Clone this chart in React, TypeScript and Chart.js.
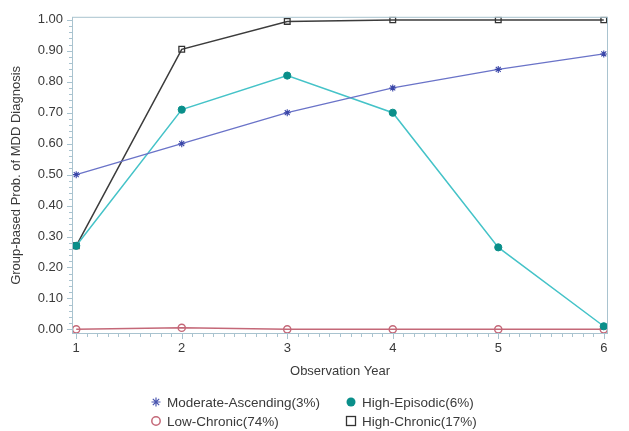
import React, { useEffect, useRef } from "react";
import { Chart, registerables } from "chart.js";

Chart.register(...registerables);

const years = [1, 2, 3, 4, 5, 6];
const moderateAscending = [0.5, 0.6, 0.7, 0.78, 0.84, 0.89];
const highEpisodic = [0.27, 0.71, 0.82, 0.7, 0.265, 0.01];
const lowChronic = [0.0, 0.005, 0.0, 0.0, 0.0, 0.0];
const highChronic = [0.27, 0.905, 0.995, 1.0, 1.0, 1.0];
const seriesLabels = [
  "Moderate-Ascending(3%)",
  "High-Episodic(6%)",
  "Low-Chronic(74%)",
  "High-Chronic(17%)",
];
const yTicks = [0, 0.1, 0.2, 0.3, 0.4, 0.5, 0.6, 0.7, 0.8, 0.9, 1.0];

const FONT = "'Liberation Sans', Arial, sans-serif";
const TEXT = "#3a3a3a";
const FRAME = "#a9c3cf";

const toXY = (vals: number[]) => vals.map((v, i) => ({ x: years[i], y: v }));

function drawMarker(ctx: CanvasRenderingContext2D, kind: string, x: number, y: number, color: string) {
  ctx.save();
  ctx.strokeStyle = color;
  ctx.fillStyle = color;
  ctx.lineWidth = 1.2;
  if (kind === "star") {
    const r = 4.5;
    ctx.beginPath();
    for (let k = 0; k < 4; k++) {
      const a = (k * Math.PI) / 4;
      ctx.moveTo(x - r * Math.cos(a), y - r * Math.sin(a));
      ctx.lineTo(x + r * Math.cos(a), y + r * Math.sin(a));
    }
    ctx.stroke();
  } else if (kind === "dot") {
    ctx.beginPath();
    ctx.arc(x, y, 4.5, 0, Math.PI * 2);
    ctx.fill();
  } else if (kind === "circle") {
    ctx.lineWidth = 1.5;
    ctx.beginPath();
    ctx.arc(x, y, 4.2, 0, Math.PI * 2);
    ctx.stroke();
  } else if (kind === "rect") {
    ctx.lineWidth = 1.3;
    ctx.strokeRect(x - 4.5, y - 4.5, 9, 9);
  }
  ctx.restore();
}

const framePlugin = {
  id: "frameAndMinor",
  afterDraw(chart: any) {
    const { ctx, chartArea } = chart;
    const xs = chart.scales.x;
    const ys = chart.scales.y;
    ctx.save();
    ctx.strokeStyle = FRAME;
    ctx.lineWidth = 1;
    ctx.strokeRect(chartArea.left + 0.5, chartArea.top + 0.5, chartArea.right - chartArea.left - 1, chartArea.bottom - chartArea.top - 1);
    ctx.beginPath();
    for (let i = 10; i <= 60; i++) {
      const v = i / 10;
      const px = Math.round(xs.getPixelForValue(v)) + 0.5;
      const len = i % 10 === 0 ? 5 : 3;
      ctx.moveTo(px, chartArea.bottom);
      ctx.lineTo(px, chartArea.bottom + len);
    }
    for (let i = 0; i <= 50; i++) {
      const v = i / 50;
      const py = Math.round(ys.getPixelForValue(v)) + 0.5;
      const len = i % 5 === 0 ? 5 : 3;
      ctx.moveTo(chartArea.left, py);
      ctx.lineTo(chartArea.left - len, py);
    }
    ctx.stroke();

    const kinds = ["star", "dot", "circle", "rect"];
    const colors = ["#4a56b0", "#0a8f8a", "#c46878", "#333333"];
    const colX = [156, 351];
    const rowY = [402, 421];
    ctx.font = `13.5px ${FONT}`;
    ctx.textBaseline = "middle";
    ctx.textAlign = "left";
    for (let k = 0; k < 4; k++) {
      const cx = colX[k % 2];
      const cy = rowY[Math.floor(k / 2)];
      drawMarker(ctx, kinds[k], cx, cy, colors[k]);
      ctx.fillStyle = TEXT;
      ctx.fillText(seriesLabels[k], cx + 11, cy + 1);
    }
    ctx.restore();
  },
};

export default function App() {
  const ref = useRef<HTMLCanvasElement | null>(null);
  useEffect(() => {
    document.body.style.margin = "0";
    const canvas = ref.current;
    if (!canvas) return;
    const chart = new Chart(canvas, {
      type: "line",
      data: {
        datasets: [
          {
            label: seriesLabels[0],
            data: toXY(moderateAscending),
            borderColor: "#6a73c8",
            borderWidth: 1.3,
            pointStyle: "star",
            pointRadius: 3.5,
            pointBorderColor: "#3a46a8",
            pointBackgroundColor: "#3a46a8",
            pointBorderWidth: 1.1,
          },
          {
            label: seriesLabels[1],
            data: toXY(highEpisodic),
            borderColor: "#45c3c8",
            borderWidth: 1.5,
            pointStyle: "circle",
            pointRadius: 3.6,
            pointBorderColor: "#0a8f8a",
            pointBackgroundColor: "#0a8f8a",
            pointBorderWidth: 1,
          },
          {
            label: seriesLabels[2],
            data: toXY(lowChronic),
            borderColor: "#c46878",
            borderWidth: 1.5,
            pointStyle: "circle",
            pointRadius: 3.6,
            pointBorderColor: "#c46878",
            pointBackgroundColor: "rgba(255,255,255,0)",
            pointBorderWidth: 1.4,
          },
          {
            label: seriesLabels[3],
            data: toXY(highChronic),
            borderColor: "#3c3c3c",
            borderWidth: 1.5,
            pointStyle: "rect",
            pointRadius: 4,
            pointBorderColor: "#333333",
            pointBackgroundColor: "rgba(255,255,255,0)",
            pointBorderWidth: 1.3,
          },
        ],
      },
      options: {
        animation: false,
        responsive: false,
        maintainAspectRatio: false,
        layout: { padding: { top: 16, right: 21, left: 0, bottom: 0 } },
        plugins: { legend: { display: false }, tooltip: { enabled: false } },
        elements: { line: { tension: 0 } },
        scales: {
          x: {
            type: "linear",
            min: 0.96,
            max: 6.04,
            afterBuildTicks: (s: any) => {
              s.ticks = years.map((v) => ({ value: v }));
            },
            afterFit: (s: any) => {
              s.height = 97;
            },
            grid: { display: false, drawTicks: false },
            border: { display: false },
            ticks: {
              padding: 7,
              color: TEXT,
              font: { family: FONT, size: 13 },
              maxRotation: 0,
              callback: (v: any) => String(v),
            },
            title: {
              display: true,
              text: "Observation Year",
              color: TEXT,
              font: { family: FONT, size: 13 },
              padding: { top: 0, bottom: 52 },
            },
          },
          y: {
            type: "linear",
            min: -0.015,
            max: 1.01,
            afterBuildTicks: (s: any) => {
              s.ticks = yTicks.map((v) => ({ value: v }));
            },
            afterFit: (s: any) => {
              s.width = 72;
            },
            grid: { display: false, drawTicks: false },
            border: { display: false },
            ticks: {
              padding: 9,
              color: TEXT,
              font: { family: FONT, size: 13 },
              callback: (v: any) => Number(v).toFixed(2),
            },
            title: {
              display: true,
              text: "Group-based Prob. of MDD Diagnosis",
              color: TEXT,
              font: { family: FONT, size: 13 },
              padding: { top: 9, bottom: 0 },
            },
          },
        },
      },
      plugins: [framePlugin],
    });
    return () => chart.destroy();
  }, []);
  return (
    <div style={{ width: 629, height: 431, background: "#ffffff" }}>
      <canvas ref={ref} width={629} height={431} style={{ display: "block" }} />
    </div>
  );
}
